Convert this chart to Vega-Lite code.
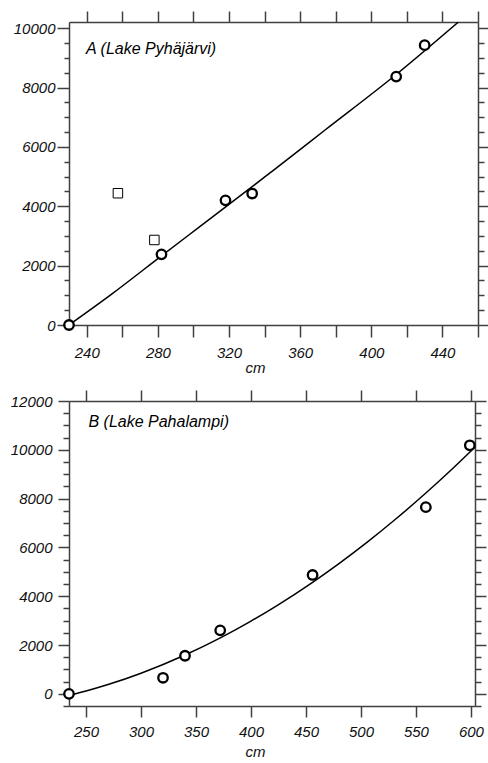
{
  "$schema": "https://vega.github.io/schema/vega-lite/v6.json",
  "padding": {"left": 10, "top": 10, "right": 0, "bottom": 0},
  "datasets": {
    "lineA": [{"x":230,"y":0},{"x":254,"y":1040},{"x":282,"y":2330},{"x":303,"y":3290},{"x":333,"y":4660},{"x":344,"y":5170},{"x":374,"y":6570},{"x":414,"y":8440},{"x":449,"y":10210}],
    "circA": [{"x":230,"y":0},{"x":282,"y":2380},{"x":318,"y":4200},{"x":333,"y":4430},{"x":414,"y":8370},{"x":430,"y":9430}],
    "sqA": [{"x":257.5,"y":4440},{"x":278,"y":2865}],
    "lineB": [{"x":235,"y":-60},{"x":250,"y":115},{"x":270,"y":380},{"x":300,"y":845},{"x":340,"y":1591},{"x":373,"y":2315},{"x":400,"y":2980},{"x":424,"y":3626},{"x":456,"y":4569},{"x":480,"y":5336},{"x":506,"y":6226},{"x":530,"y":7101},{"x":558,"y":8188},{"x":580,"y":9091},{"x":601,"y":9994}],
    "circB": [{"x":234.5,"y":0},{"x":320,"y":657},{"x":340,"y":1560},{"x":372,"y":2600},{"x":456,"y":4870},{"x":559,"y":7650},{"x":599,"y":10185}]
  },
  "concat": [
    {
      "width": 409,
      "height": 303,
      "resolve": {"axis": {"x": "independent", "y": "independent"}},
      "layer": [
        {
          "data": {"name": "lineA"},
          "mark": {"type": "line", "color": "black", "strokeWidth": 1.5, "interpolate": "monotone", "clip": true},
          "encoding": {
            "x": {"field": "x", "type": "quantitative", "scale": {"domain": [230, 460], "nice": false, "zero": false},
              "axis": {"orient": "bottom", "values": [240,260,280,300,320,340,360,380,400,420,440,460], "format": "d", "labelExpr": "datum.value % 40 === 0 ? datum.label : ''", "tickSize": 12, "labelPadding": 8, "title": "cm", "titlePadding": 0, "titleX": 186}},
            "y": {"field": "y", "type": "quantitative", "scale": {"domain": [0, 10210], "nice": false, "zero": false},
              "axis": {"orient": "left", "values": [0,500,1000,1500,2000,2500,3000,3500,4000,4500,5000,5500,6000,6500,7000,7500,8000,8500,9000,9500,10000], "format": "d", "labelExpr": "datum.value % 2000 === 0 ? datum.label : ''", "tickSize": {"condition": {"test": "datum.value % 2000 === 0", "value": 12}, "value": 5}, "labelPadding": 2, "title": null}}
          }
        },
        {
          "data": {"name": "circA"},
          "mark": {"type": "point", "shape": "circle", "size": 90, "strokeWidth": 2.3, "color": "black", "fill": "white", "filled": false, "opacity": 1},
          "encoding": {
            "x": {"field": "x", "type": "quantitative", "axis": {"orient": "top", "values": [240,260,280,300,320,340,360,380,400,420,440,460], "labels": false, "tickSize": 11, "title": null}},
            "y": {"field": "y", "type": "quantitative", "axis": {"orient": "right", "values": [0,500,1000,1500,2000,2500,3000,3500,4000,4500,5000,5500,6000,6500,7000,7500,8000,8500,9000,9500,10000], "labels": false, "tickSize": {"condition": {"test": "datum.value % 2000 === 0", "value": 12}, "value": 6}, "title": null}}
          }
        },
        {
          "data": {"name": "sqA"},
          "mark": {"type": "point", "shape": "square", "size": 90, "strokeWidth": 1, "color": "black", "filled": false, "opacity": 1},
          "encoding": {
            "x": {"field": "x", "type": "quantitative", "axis": null},
            "y": {"field": "y", "type": "quantitative", "axis": null}
          }
        },
        {
          "data": {"values": [{"label": "A (Lake Pyhäjärvi)"}]},
          "mark": {"type": "text", "align": "left", "baseline": "alphabetic", "fontStyle": "italic", "fontSize": 16, "font": "Liberation Sans", "color": "black"},
          "encoding": {
            "x": {"datum": 239.6, "type": "quantitative", "axis": null},
            "y": {"datum": 9130, "type": "quantitative", "axis": null},
            "text": {"field": "label"}
          }
        }
      ]
    },
    {
      "width": 406,
      "height": 305,
      "resolve": {"axis": {"x": "independent", "y": "independent"}},
      "layer": [
        {
          "data": {"name": "lineB"},
          "mark": {"type": "line", "color": "black", "strokeWidth": 1.5, "interpolate": "monotone", "clip": true},
          "encoding": {
            "x": {"field": "x", "type": "quantitative", "scale": {"domain": [234.5, 603.7], "nice": false, "zero": false},
              "axis": {"orient": "bottom", "values": [250,300,350,400,450,500,550,600], "format": "d", "tickSize": 11, "labelPadding": 7, "title": "cm", "titlePadding": 5, "titleX": 186}},
            "y": {"field": "y", "type": "quantitative", "scale": {"domain": [-500, 12000], "nice": false, "zero": false},
              "axis": {"orient": "left", "values": [-500,0,500,1000,1500,2000,2500,3000,3500,4000,4500,5000,5500,6000,6500,7000,7500,8000,8500,9000,9500,10000,10500,11000,11500,12000], "format": "d", "labelExpr": "datum.value % 2000 === 0 ? datum.label : ''", "tickSize": {"condition": {"test": "datum.value % 2000 === 0", "value": 11}, "value": 6}, "labelPadding": 6, "title": null}}
          }
        },
        {
          "data": {"name": "circB"},
          "mark": {"type": "point", "shape": "circle", "size": 90, "strokeWidth": 2.3, "color": "black", "fill": "white", "filled": false, "opacity": 1},
          "encoding": {
            "x": {"field": "x", "type": "quantitative", "axis": {"orient": "top", "values": [250,300,350,400,450,500,550,600], "labels": false, "tickSize": 11, "title": null}},
            "y": {"field": "y", "type": "quantitative", "axis": {"orient": "right", "values": [-500,0,500,1000,1500,2000,2500,3000,3500,4000,4500,5000,5500,6000,6500,7000,7500,8000,8500,9000,9500,10000,10500,11000,11500,12000], "labels": false, "tickSize": {"condition": {"test": "datum.value % 2000 === 0", "value": 11}, "value": 6}, "title": null}}
          }
        },
        {
          "data": {"values": [{"label": "B (Lake Pahalampi)"}]},
          "mark": {"type": "text", "align": "left", "baseline": "alphabetic", "fontStyle": "italic", "fontSize": 16, "font": "Liberation Sans", "color": "black"},
          "encoding": {
            "x": {"datum": 252.2, "type": "quantitative", "axis": null},
            "y": {"datum": 10920, "type": "quantitative", "axis": null},
            "text": {"field": "label"}
          }
        }
      ]
    }
  ],
  "columns": 1,
  "align": "none",
  "spacing": 14,
  "config": {
    "view": {"stroke": null},
    "font": "Liberation Sans",
    "axis": {
      "domainColor": "#404040", "domainWidth": 1.5,
      "tickColor": "#404040", "tickWidth": 1.5,
      "labelFont": "Liberation Sans", "labelFontStyle": "italic", "labelFontSize": 15, "labelColor": "#111111",
      "titleFont": "Liberation Sans", "titleFontStyle": "italic", "titleFontWeight": "normal", "titleFontSize": 15, "titleColor": "#111111",
      "grid": false, "labelFlush": false, "labelOverlap": false
    }
  }
}
